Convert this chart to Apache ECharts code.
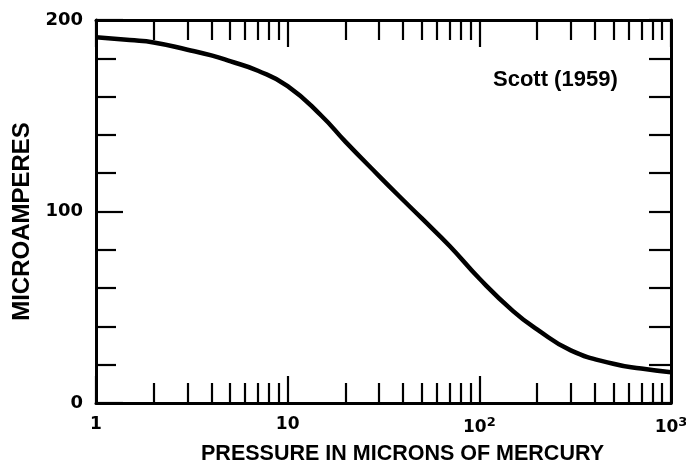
<!DOCTYPE html>
<html>
<head>
<meta charset="utf-8">
<script src="https://cdn.jsdelivr.net/npm/echarts@6/dist/echarts.min.js"></script>
<style>
  html, body { margin: 0; padding: 0; background: #fff; }
  #chart { width: 686px; height: 466px; }
</style>
</head>
<body>
<div id="chart"></div>
<script>
// pressure in microns of mercury, current in microamperes
const pressure = [1, 1.5, 2, 3, 4, 5, 7, 10, 15, 20, 30, 40, 50, 70, 100, 150, 200, 300, 500, 700, 1000];
const current = [191, 189.5, 188.3, 184.5, 181.5, 178.5, 173.5, 165.5, 150, 136.5, 118.5, 106, 96.5, 82, 65, 48, 38.5, 27.5, 20.5, 18, 16];
const yTickLabels = [0, 100, 200];

const ink = '#000';
const chart = echarts.init(document.getElementById('chart'));

const xLabel = function (v) {
  if (v === 1) return '1';
  if (v === 10) return '10';
  if (v === 100) return '10{s|2}';
  if (v === 1000) return '10{s|3}';
  return '';
};

const logAxis = function (pos) {
  return {
    type: 'log',
    logBase: 10,
    position: pos,
    min: 1,
    max: 1000,
    axisLine: { show: true, onZero: false, lineStyle: { color: ink, width: 3 } },
    axisTick: { show: true, inside: true, length: 27, lineStyle: { color: ink, width: 2.2 } },
    minorTick: { show: true, splitNumber: 9, length: 20, lineStyle: { color: ink, width: 2.2 } },
    splitLine: { show: false },
    minorSplitLine: { show: false }
  };
};

const bottomX = logAxis('bottom');
bottomX.axisLabel = {
  show: true,
  margin: 13,
  color: ink,
  fontFamily: 'DejaVu Sans',
  fontWeight: 'bold',
  fontSize: 17,
  formatter: xLabel,
  rich: {
    s: { fontFamily: 'DejaVu Sans', fontWeight: 'bold', fontSize: 13, color: ink, verticalAlign: 'top', padding: [0, 0, 10, 0] }
  }
};
bottomX.name = 'PRESSURE IN MICRONS OF MERCURY';
bottomX.nameLocation = 'middle';
bottomX.nameGap = 40;
bottomX.nameTextStyle = {
  color: ink,
  fontFamily: 'Liberation Sans',
  fontWeight: 'bold',
  fontSize: 21.5,
  padding: [0, 0, 0, 38]
};

const topX = logAxis('top');
topX.axisLabel = { show: false };

chart.setOption({
  backgroundColor: '#fff',
  animation: false,
  title: {
    text: 'Scott (1959)',
    left: 488,
    top: 64,
    textStyle: { color: ink, fontFamily: 'Liberation Sans', fontWeight: 'bold', fontSize: 22 }
  },
  grid: { left: 96, right: 15, top: 20, bottom: 63, containLabel: false, outerBoundsMode: 'none' },
  xAxis: [bottomX, topX],
  yAxis: [
    {
      type: 'value',
      position: 'left',
      min: 0,
      max: 200,
      interval: 100,
      name: 'MICROAMPERES',
      nameLocation: 'middle',
      nameGap: 60,
      nameTextStyle: {
        color: ink,
        fontFamily: 'Liberation Sans',
        fontWeight: 'bold',
        fontSize: 24,
        padding: [0, 20, 0, 0]
      },
      axisLine: { show: true, onZero: false, lineStyle: { color: ink, width: 3 } },
      axisTick: { show: true, inside: true, length: 27, lineStyle: { color: ink, width: 2.2 } },
      minorTick: { show: true, splitNumber: 5, length: 20, lineStyle: { color: ink, width: 2.2 } },
      splitLine: { show: false },
      axisLabel: {
        margin: 13,
        color: ink,
        fontFamily: 'DejaVu Sans',
        fontWeight: 'bold',
        fontSize: 18,
        formatter: function (v) { return yTickLabels.indexOf(v) >= 0 ? String(v) : ''; }
      }
    },
    {
      type: 'value',
      position: 'right',
      min: 0,
      max: 200,
      interval: 20,
      axisLine: { show: true, onZero: false, lineStyle: { color: ink, width: 3 } },
      axisTick: { show: true, inside: true, length: 22, lineStyle: { color: ink, width: 2.2 } },
      splitLine: { show: false },
      axisLabel: { show: false }
    }
  ],
  series: [
    {
      type: 'line',
      xAxisIndex: 0,
      yAxisIndex: 0,
      data: pressure.map((p, i) => [p, current[i]]),
      smooth: 0.5,
      showSymbol: false,
      lineStyle: { color: ink, width: 4.5 }
    }
  ]
});
</script>
</body>
</html>
